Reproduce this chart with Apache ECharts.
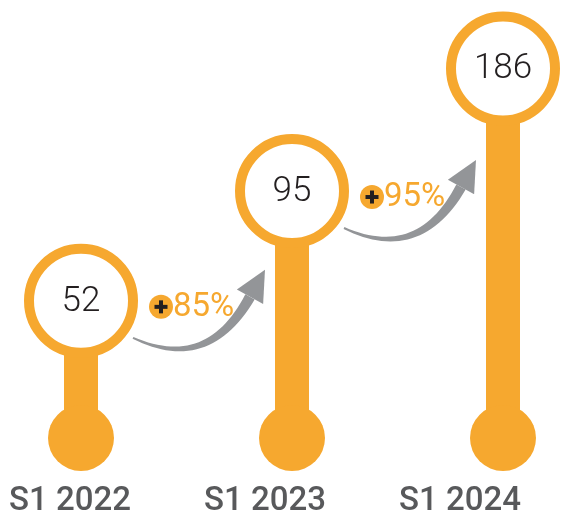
<!DOCTYPE html>
<html>
<head>
<meta charset="utf-8">
<script src="https://cdn.jsdelivr.net/npm/echarts@6/dist/echarts.min.js"></script>
<style>
  html, body { margin: 0; padding: 0; background: #fff; }
  #chart { width: 567px; height: 521px; }
</style>
</head>
<body>
<div id="chart"></div>
<script>
// data
const categories = ['S1 2022', 'S1 2023', 'S1 2024'];
const values = [52, 95, 186];
const growth = [85, 95]; // % shown on the arrows

const ORANGE = '#f6a82f';
const GREY = '#939598';
const DARK = '#231f20';

const chart = echarts.init(document.getElementById('chart'));

// curved grey arrow, tapered shaft + triangle head, tail at (x0, y0)
function arrowPoints(x0, y0) {
  const P0 = [0, 0], C = [75, 35], P2 = [117, -41];
  const left = [], right = [];
  const N = 30;
  for (let k = 0; k <= N; k++) {
    const t = k / N;
    const px = (1 - t) * (1 - t) * P0[0] + 2 * t * (1 - t) * C[0] + t * t * P2[0];
    const py = (1 - t) * (1 - t) * P0[1] + 2 * t * (1 - t) * C[1] + t * t * P2[1];
    const dx = 2 * (1 - t) * (C[0] - P0[0]) + 2 * t * (P2[0] - C[0]);
    const dy = 2 * (1 - t) * (C[1] - P0[1]) + 2 * t * (P2[1] - C[1]);
    const len = Math.sqrt(dx * dx + dy * dy);
    const nx = -dy / len, ny = dx / len;
    const w = 1 + 4.3 * t;
    left.push([x0 + px + nx * w, y0 + py + ny * w]);
    right.push([x0 + px - nx * w, y0 + py - ny * w]);
  }
  const hx = P2[0] - C[0], hy = P2[1] - C[1];
  const hl = Math.sqrt(hx * hx + hy * hy);
  const ux = hx / hl, uy = hy / hl;
  const head = [
    [x0 + P2[0] + uy * 15, y0 + P2[1] - ux * 15],
    [x0 + P2[0] + ux * 31, y0 + P2[1] + uy * 31],
    [x0 + P2[0] - uy * 15, y0 + P2[1] + ux * 15]
  ];
  return { shaft: left.concat(right.reverse()), head: head };
}

const option = {
  animation: false,
  grid: [
    { left: 81, right: 64, top: 0, bottom: 83 },
    { left: 70, right: 107, top: 480, height: 1 }
  ],
  xAxis: [
    { type: 'category', data: categories, boundaryGap: false, show: false, gridIndex: 0 },
    {
      type: 'category', data: categories, boundaryGap: false, gridIndex: 1,
      axisLine: { show: false }, axisTick: { show: false },
      axisLabel: {
        interval: 0, margin: 4, fontSize: 33, fontWeight: 500,
        fontFamily: 'Roboto', color: '#58595b'
      }
    }
  ],
  yAxis: [
    { type: 'log', min: 24.5, max: 271, show: false, gridIndex: 0 },
    { type: 'value', show: false, gridIndex: 1 }
  ],
  series: [
    {
      type: 'custom',
      xAxisIndex: 0,
      yAxisIndex: 0,
      data: values.map((v, i) => [i, v]),
      encode: { x: 0, y: 1 },
      renderItem: function (params, api) {
        const top = api.coord([api.value(0), api.value(1)]);
        const base = api.coord([api.value(0), 24.5]);
        return {
          type: 'group',
          children: [
            {
              type: 'rect',
              shape: { x: top[0] - 17, y: top[1], width: 34, height: base[1] - top[1] },
              style: { fill: ORANGE }
            },
            {
              type: 'circle',
              shape: { cx: base[0], cy: base[1], r: 33 },
              style: { fill: ORANGE }
            },
            {
              type: 'circle',
              shape: { cx: top[0], cy: top[1], r: 52 },
              style: { fill: '#fff', stroke: ORANGE, lineWidth: 10 }
            },
            {
              type: 'text',
              style: {
                text: String(api.value(1)),
                x: top[0], y: top[1] + 1,
                align: 'center', verticalAlign: 'middle',
                font: '300 35px Roboto', fill: DARK
              }
            }
          ]
        };
      }
    },
    {
      type: 'custom',
      xAxisIndex: 0,
      yAxisIndex: 0,
      data: growth.map((g, i) => [i, values[i], g]),
      encode: { x: 0, y: 1 },
      renderItem: function (params, api) {
        const c = api.coord([api.value(0), api.value(1)]);
        const x0 = c[0] + 52, y0 = c[1] + 37;
        const a = arrowPoints(x0, y0);
        return {
          type: 'group',
          children: [
            { type: 'polygon', shape: { points: a.shaft }, style: { fill: GREY } },
            { type: 'polygon', shape: { points: a.head }, style: { fill: GREY } },
            {
              type: 'circle',
              shape: { cx: x0 + 28, cy: y0 - 31, r: 12 },
              style: { fill: ORANGE }
            },
            {
              type: 'rect',
              shape: { x: x0 + 21.5, y: y0 - 33, width: 13, height: 4 },
              style: { fill: DARK }
            },
            {
              type: 'rect',
              shape: { x: x0 + 26, y: y0 - 37.5, width: 4, height: 13 },
              style: { fill: DARK }
            },
            {
              type: 'text',
              style: {
                text: api.value(2) + '%',
                x: x0 + 40, y: y0 - 30,
                align: 'left', verticalAlign: 'middle',
                font: '400 33px Roboto', fill: ORANGE
              }
            }
          ]
        };
      }
    }
  ]
};

chart.setOption(option);
</script>
</body>
</html>
